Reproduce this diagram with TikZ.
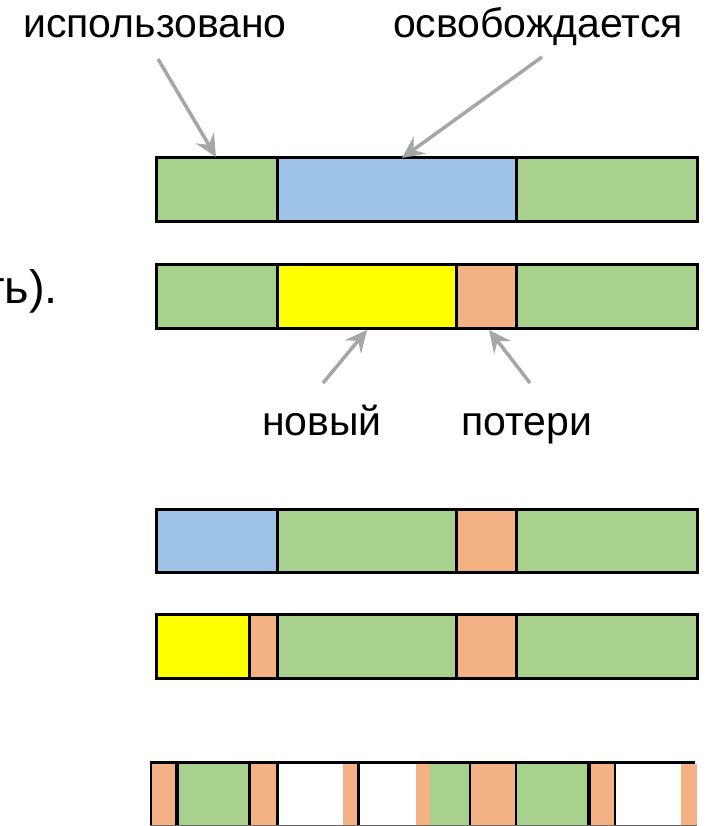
\documentclass[tikz,border=0pt]{standalone}
\usepackage{fontspec}
\setmainfont{Liberation Sans}
\usetikzlibrary{arrows.meta}
\definecolor{usedgreen}{HTML}{A9D18E}
\definecolor{freeblue}{HTML}{9DC3E6}
\definecolor{newyellow}{HTML}{FFFF00}
\definecolor{lossorange}{HTML}{F4B183}
\definecolor{pointergray}{HTML}{A6A6A6}
\tikzset{
  seg/.style={draw=black, line width=3pt},
  sep/.style={draw=black, line width=3pt},
  lbl/.style={font=\fontsize{41}{49}\selectfont, inner sep=0pt, anchor=base},
  pointer/.style={draw=pointergray, line width=3.5pt,
    -{Stealth[length=22pt, width=21pt, inset=8pt]}}
}
\begin{document}
\begin{tikzpicture}[x=1pt, y=-1pt]
\useasboundingbox (0,0) rectangle (707,826);

% labels
\node[lbl] (used) at (155,38) {использовано};
\node[lbl] (freed) at (538,38) {освобождается};
\node[lbl] (new) at (322,435) {новый};
\node[lbl] (loss) at (527,435) {потери};
\node[lbl, font=\fontsize{47}{56}\selectfont, anchor=base east] (tail) at (58,303) {ть).};

% block row 1: used / freed / used
\path[seg, fill=usedgreen] (156,158) rectangle (277,222);
\path[seg, fill=freeblue] (277,158) rectangle (516,222);
\path[seg, fill=usedgreen] (516,158) rectangle (697,222);

% block row 2: new allocation with a lost remainder
\path[seg, fill=usedgreen] (156,264) rectangle (277,328);
\path[seg, fill=newyellow] (277,264) rectangle (456,328);
\path[seg, fill=lossorange] (456,264) rectangle (516,328);
\path[seg, fill=usedgreen] (516,264) rectangle (697,328);

% block row 3
\path[seg, fill=freeblue] (156,509) rectangle (277,572);
\path[seg, fill=usedgreen] (277,509) rectangle (456,572);
\path[seg, fill=lossorange] (456,509) rectangle (516,572);
\path[seg, fill=usedgreen] (516,509) rectangle (697,572);

% block row 4
\path[seg, fill=newyellow] (156,614) rectangle (249,678);
\path[seg, fill=lossorange] (249,614) rectangle (277,678);
\path[seg, fill=usedgreen] (277,614) rectangle (456,678);
\path[seg, fill=lossorange] (456,614) rectangle (516,678);
\path[seg, fill=usedgreen] (516,614) rectangle (697,678);

% block row 5: fragmented memory
\fill[lossorange] (150,762) rectangle (177,825);
\fill[usedgreen] (177,762) rectangle (249,825);
\fill[lossorange] (249,762) rectangle (277,825);
\fill[lossorange] (343,764) rectangle (358,825);
\fill[lossorange] (416,764) rectangle (430,825);
\fill[usedgreen] (430,762) rectangle (470,825);
\fill[lossorange] (470,762) rectangle (516,825);
\fill[usedgreen] (516,762) rectangle (589,825);
\fill[lossorange] (589,762) rectangle (615,825);
\fill[lossorange] (681,764) rectangle (697,825);
\draw[black!60, line width=1pt] (150,825) -- (697,825);
\draw[sep, line width=2.5pt] (151,762) -- (151,825);
\draw[sep, line width=4pt] (177,762) -- (177,825);
\draw[sep] (249,762) -- (249,825);
\draw[sep] (277,762) -- (277,825);
\draw[sep] (358,762) -- (358,825);
\draw[sep, line width=2.5pt] (470,762) -- (470,825);
\draw[sep, line width=2.5pt] (516,762) -- (516,825);
\draw[sep, line width=4pt] (589,762) -- (589,825);
\draw[sep, line width=2.5pt] (615,762) -- (615,825);
\draw[sep] (150,762) -- (695,762);

% pointers
\coordinate (usedtail) at (158,59);
\coordinate (usedtip) at (216,157);
\coordinate (freedtail) at (542,57);
\coordinate (freedtip) at (402,158);
\coordinate (newtail) at (323,383);
\coordinate (newtip) at (367,330);
\coordinate (losstail) at (530,383);
\coordinate (losstip) at (489,330);
\draw[pointer] (usedtail) -- (usedtip);
\draw[pointer] (freedtail) -- (freedtip);
\draw[pointer] (newtail) -- (newtip);
\draw[pointer] (losstail) -- (losstip);
\end{tikzpicture}
\end{document}
